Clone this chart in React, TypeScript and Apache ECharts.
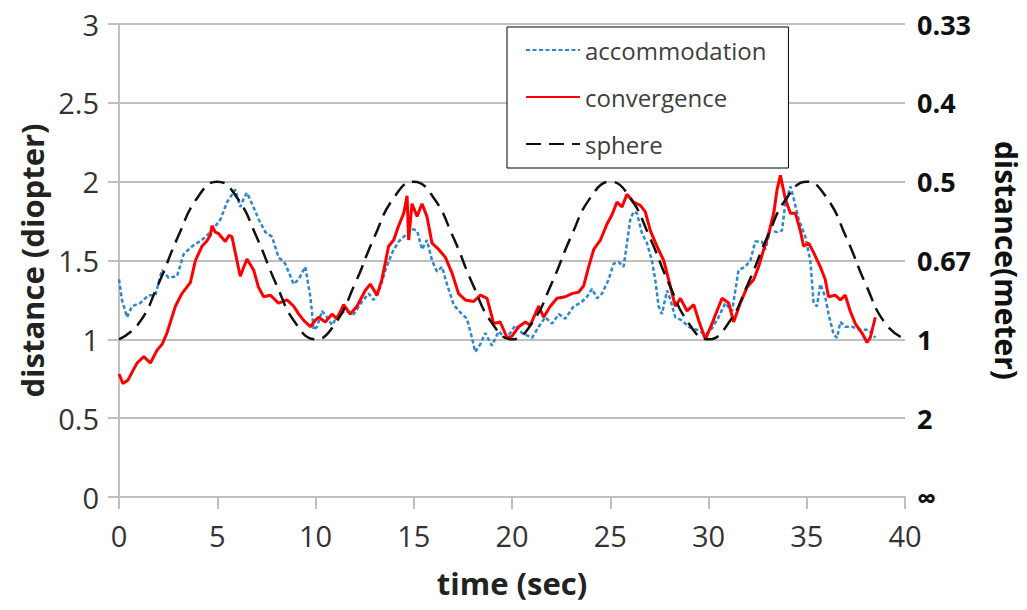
import React, { useEffect, useRef } from "react";
import * as echarts from "echarts";

const FONT = "'Open Sans', 'Noto Sans', sans-serif";

const xTicks = [0, 5, 10, 15, 20, 25, 30, 35, 40];
const meterLabels = ["∞", "2", "1", "0.67", "0.5", "0.4", "0.33"];

const accT = [0, 0.15, 0.41, 0.66, 1.08, 1.51, 1.85, 2.19, 2.53, 2.95, 3.29, 3.72, 4.22, 4.73, 5.16, 5.5, 5.92, 6.17, 6.34, 6.51, 6.77, 7.11, 7.45, 7.79, 8.12, 8.46, 8.89, 9.14, 9.48, 9.74, 9.91, 10.08, 10.33, 10.59, 10.84, 11.18, 11.52, 11.95, 12.37, 12.71, 12.96, 13.3, 13.56, 13.9, 14.23, 14.66, 14.91, 15.17, 15.42, 15.67, 15.93, 16.18, 16.44, 16.69, 17.03, 17.37, 17.71, 17.96, 18.13, 18.39, 18.64, 18.98, 19.32, 19.66, 19.91, 20.17, 20.51, 21.02, 21.36, 21.69, 22.04, 22.38, 22.71, 23.14, 23.48, 23.82, 24.07, 24.33, 24.58, 24.92, 25.17, 25.43, 25.68, 25.85, 26.02, 26.19, 26.36, 26.62, 26.87, 27.12, 27.29, 27.46, 27.63, 27.89, 28.06, 28.31, 28.65, 28.99, 29.42, 29.84, 30.18, 30.51, 30.85, 31.2, 31.53, 31.87, 32.13, 32.38, 32.72, 32.89, 33.14, 33.49, 33.74, 33.91, 34.17, 34.34, 34.59, 34.93, 35.18, 35.35, 35.52, 35.69, 35.94, 36.11, 36.37, 36.54, 36.71, 36.96, 37.3, 37.73, 38.15, 38.49];
const accV = [1.38, 1.25, 1.14, 1.21, 1.23, 1.28, 1.28, 1.44, 1.39, 1.4, 1.54, 1.59, 1.63, 1.69, 1.76, 1.87, 1.95, 1.84, 1.89, 1.93, 1.86, 1.76, 1.68, 1.65, 1.52, 1.48, 1.35, 1.38, 1.46, 1.27, 1.06, 1.08, 1.18, 1.14, 1.09, 1.16, 1.18, 1.16, 1.24, 1.29, 1.25, 1.33, 1.44, 1.55, 1.62, 1.67, 1.7, 1.69, 1.57, 1.63, 1.5, 1.43, 1.46, 1.35, 1.22, 1.17, 1.13, 1.01, 0.92, 0.97, 1.04, 0.96, 1.05, 1.01, 1.04, 1.09, 1.04, 1.01, 1.08, 1.14, 1.1, 1.16, 1.13, 1.21, 1.23, 1.27, 1.32, 1.26, 1.29, 1.38, 1.48, 1.49, 1.46, 1.61, 1.76, 1.81, 1.8, 1.67, 1.61, 1.5, 1.38, 1.21, 1.16, 1.31, 1.25, 1.14, 1.12, 1.08, 1.06, 1.03, 1.07, 1.14, 1.23, 1.18, 1.44, 1.46, 1.5, 1.62, 1.62, 1.57, 1.69, 1.68, 1.69, 1.86, 1.97, 1.89, 1.76, 1.65, 1.5, 1.23, 1.21, 1.35, 1.27, 1.16, 1.03, 1.01, 1.11, 1.08, 1.08, 1.06, 1.06, 1.01];

const convT = [0, 0.2, 0.45, 0.7, 0.92, 1.26, 1.6, 1.93, 2.2, 2.44, 2.87, 3.2, 3.63, 3.89, 4.22, 4.45, 4.65, 4.73, 4.9, 5.07, 5.41, 5.6, 5.75, 6.17, 6.51, 6.85, 7.1, 7.36, 7.7, 8.12, 8.55, 8.89, 9.15, 9.4, 9.74, 9.99, 10.16, 10.5, 10.84, 11.09, 11.43, 11.77, 12.11, 12.53, 12.79, 13.13, 13.38, 13.72, 13.98, 14.23, 14.49, 14.66, 14.74, 14.91, 15.17, 15.42, 15.67, 15.93, 16.27, 16.61, 16.95, 17.28, 17.62, 18.05, 18.39, 18.73, 19.07, 19.4, 19.75, 20.0, 20.34, 20.68, 20.93, 21.36, 21.61, 21.95, 22.29, 22.71, 23.05, 23.4, 23.65, 23.9, 24.16, 24.5, 24.83, 25.09, 25.34, 25.6, 25.85, 26.19, 26.53, 26.78, 27.04, 27.38, 27.72, 27.97, 28.31, 28.57, 28.91, 29.25, 29.5, 29.84, 30.18, 30.43, 30.69, 31.03, 31.28, 31.62, 31.96, 32.3, 32.55, 32.81, 33.06, 33.32, 33.49, 33.66, 33.91, 34.17, 34.42, 34.67, 34.84, 35.1, 35.35, 35.69, 35.94, 36.11, 36.45, 36.71, 36.96, 37.21, 37.47, 37.81, 38.07, 38.23, 38.49];
const convV = [0.78, 0.72, 0.74, 0.8, 0.85, 0.89, 0.85, 0.93, 0.97, 1.04, 1.21, 1.29, 1.36, 1.5, 1.59, 1.62, 1.66, 1.72, 1.68, 1.67, 1.62, 1.66, 1.65, 1.4, 1.51, 1.44, 1.33, 1.27, 1.28, 1.23, 1.25, 1.21, 1.16, 1.12, 1.08, 1.12, 1.14, 1.11, 1.16, 1.13, 1.22, 1.16, 1.21, 1.31, 1.35, 1.28, 1.38, 1.59, 1.63, 1.72, 1.8, 1.91, 1.63, 1.86, 1.78, 1.86, 1.78, 1.61, 1.57, 1.52, 1.42, 1.29, 1.25, 1.24, 1.28, 1.26, 1.1, 1.11, 1.01, 1.02, 1.08, 1.11, 1.09, 1.21, 1.14, 1.21, 1.26, 1.27, 1.29, 1.3, 1.34, 1.46, 1.57, 1.63, 1.73, 1.79, 1.87, 1.84, 1.92, 1.87, 1.85, 1.81, 1.69, 1.59, 1.5, 1.38, 1.21, 1.26, 1.18, 1.22, 1.12, 1.0, 1.1, 1.18, 1.26, 1.23, 1.11, 1.23, 1.33, 1.38, 1.46, 1.57, 1.67, 1.8, 1.95, 2.04, 1.89, 1.8, 1.8, 1.69, 1.59, 1.61, 1.55, 1.46, 1.38, 1.27, 1.28, 1.25, 1.28, 1.18, 1.1, 1.04, 0.98, 1.01, 1.14];

const sphereT = [0, 1, 2, 3, 4, 5, 6, 7, 8, 9, 10, 11, 12, 13, 14, 15, 16, 17, 18, 19, 20, 21, 22, 23, 24, 25, 26, 27, 28, 29, 30, 31, 32, 33, 34, 35, 36, 37, 38, 39, 40];
const sphereV = [1, 1.1, 1.35, 1.65, 1.9, 2, 1.9, 1.65, 1.35, 1.1, 1, 1.1, 1.35, 1.65, 1.9, 2, 1.9, 1.65, 1.35, 1.1, 1, 1.1, 1.35, 1.65, 1.9, 2, 1.9, 1.65, 1.35, 1.1, 1, 1.1, 1.35, 1.65, 1.9, 2, 1.9, 1.65, 1.35, 1.1, 1];

const pairs = (t: number[], v: number[]) => t.map((x, i) => [x, v[i]]);

export default function App() {
  const ref = useRef<HTMLDivElement>(null);
  useEffect(() => {
    if (!ref.current) return;
    const chart = echarts.init(ref.current, undefined, { renderer: "svg" });
    const gray = "#bfbfbf";
    chart.setOption({
      animation: false,
      backgroundColor: "#fff",
      grid: { left: 119, right: 122, top: 24, bottom: 113, containLabel: false, outerBoundsMode: "none" },
      legend: {
        orient: "vertical",
        left: 507,
        top: 27,
        padding: [11, 22, 12, 18],
        itemWidth: 54,
        itemHeight: 24,
        itemGap: 23,
        borderColor: "#000",
        borderWidth: 1,
        backgroundColor: "#fff",
        itemStyle: { opacity: 0 },
        textStyle: { fontSize: 24, color: "#404040", fontFamily: FONT },
        data: ["accommodation", "convergence", "sphere"],
      },
      xAxis: {
        type: "value",
        min: 0,
        max: 40,
        interval: 5,
        name: "time (sec)",
        nameLocation: "middle",
        nameGap: 70,
        nameTextStyle: { fontSize: 31, fontWeight: "bold", color: "#222", fontFamily: FONT },
        axisLine: { show: true, lineStyle: { color: gray, width: 2 } },
        axisTick: { show: true, length: 12, lineStyle: { color: gray, width: 2 } },
        splitLine: { show: false },
        axisLabel: {
          fontSize: 29,
          color: "#333",
          fontFamily: FONT,
          margin: 24,
          formatter: (v: number) => (xTicks.includes(v) ? String(v) : ""),
        },
      },
      yAxis: [
        {
          type: "value",
          min: 0,
          max: 3,
          interval: 0.5,
          name: "distance (diopter)",
          nameLocation: "middle",
          nameGap: 72,
          nameTextStyle: { fontSize: 31, fontWeight: "bold", color: "#222", fontFamily: FONT },
          axisLine: { show: true, lineStyle: { color: gray, width: 2 } },
          axisTick: { show: true, length: 11, lineStyle: { color: gray, width: 2 } },
          splitLine: { show: true, lineStyle: { color: gray, width: 2 } },
          axisLabel: { fontSize: 29, color: "#333", fontFamily: FONT, margin: 20 },
        },
        {
          type: "value",
          position: "right",
          min: 0,
          max: 3,
          interval: 0.5,
          name: "distance(meter)",
          nameLocation: "middle",
          nameRotate: -90,
          nameGap: 85,
          nameTextStyle: { fontSize: 30, fontWeight: "bold", color: "#111", fontFamily: FONT, lineHeight: 32 },
          axisLine: { show: false },
          axisTick: { show: false },
          splitLine: { show: false },
          axisLabel: {
            fontSize: 27,
            fontWeight: "bold",
            color: "#111",
            fontFamily: FONT,
            margin: 12,
            formatter: (v: number) => meterLabels[Math.round(v / 0.5)] ?? "",
          },
        },
      ],
      series: [
        {
          name: "accommodation",
          type: "line",
          data: pairs(accT, accV),
          showSymbol: false,
          symbol: "none",
          lineStyle: { color: "#2f86d1", width: 2.5, type: [4, 2.5] },
          itemStyle: { color: "#2f86d1" },
        },
        {
          name: "convergence",
          type: "line",
          data: pairs(convT, convV),
          showSymbol: false,
          symbol: "none",
          lineStyle: { color: "#ff0000", width: 3, type: "solid" },
          itemStyle: { color: "#ff0000" },
        },
        {
          name: "sphere",
          type: "line",
          data: pairs(sphereT, sphereV),
          smooth: true,
          showSymbol: false,
          symbol: "none",
          lineStyle: { color: "#111", width: 2.5, type: [15, 8] },
          itemStyle: { color: "#111" },
        },
      ],
    });
    return () => chart.dispose();
  }, []);
  return <div ref={ref} style={{ position: "absolute", left: 0, top: 0, width: 1027, height: 610 }} />;
}
